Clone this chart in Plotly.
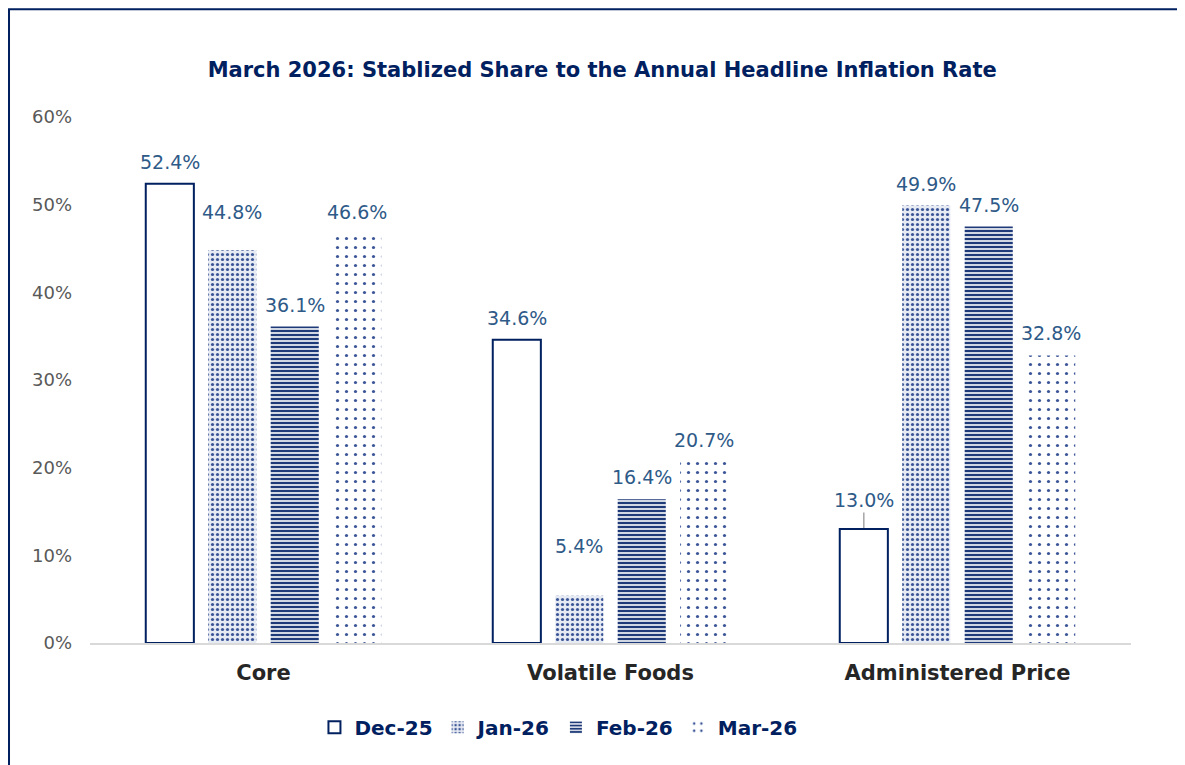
import plotly.graph_objects as go

categories = ['Core', 'Volatile Foods', 'Administered Price']
series_names = ['Dec-25', 'Jan-26', 'Feb-26', 'Mar-26']
dec_25 = [52.4, 34.6, 13.0]
jan_26 = [44.8, 5.4, 49.9]
feb_26 = [36.1, 16.4, 47.5]
mar_26 = [46.6, 20.7, 32.8]
y_ticks = [0, 10, 20, 30, 40, 50, 60]

navy = '#002060'
label_blue = '#2E5A88'
font = 'DejaVu Sans'

values = [dec_25, jan_26, feb_26, mar_26]
patterns = [
    dict(shape='', fillmode='replace'),
    dict(shape='.', size=5, solidity=0.32, fgcolor='#3B5597', bgcolor='#E6EAF2', fillmode='replace'),
    dict(shape='-', size=4, solidity=0.6, fgcolor='#1F3A78', bgcolor='#FFFFFF', fillmode='replace'),
    dict(shape='.', size=9, solidity=0.1, fgcolor='#3B5597', bgcolor='#FFFFFF', fillmode='replace'),
]
line_w = [2, 0, 0, 0]

bargap = 0.28
slot = (1 - bargap) / len(series_names)

fig = go.Figure()
for j, name in enumerate(series_names):
    fig.add_trace(go.Bar(
        x=categories, y=values[j], name=name,
        marker=dict(color='white', pattern=patterns[j],
                    line=dict(color=navy, width=line_w[j])),
    ))

# data labels; a few were dragged higher in the original, one with a leader line
lifted = {('Jan-26', 0): 38, ('Jan-26', 1): 50}
leader = {('Dec-25', 2): 29}
for j, name in enumerate(series_names):
    for i, v in enumerate(values[j]):
        xpos = i + (j - 1.5) * slot
        lab_font = dict(family=font, size=19, color=label_blue)
        if (name, i) in leader:
            fig.add_annotation(x=xpos, y=v, text=f'{v:.1f}%', showarrow=True,
                               arrowhead=0, arrowcolor='#A6A6A6', arrowwidth=1.5,
                               ax=0, ay=-leader[(name, i)], standoff=1, font=lab_font)
        else:
            fig.add_annotation(x=xpos, y=v, text=f'{v:.1f}%', showarrow=False,
                               yanchor='middle', yshift=lifted.get((name, i), 22),
                               font=lab_font)

fig.add_shape(type='rect', xref='paper', yref='paper',
              x0=-0.0778, x1=1.0495, y0=-0.5, y1=1.205,
              line=dict(color=navy, width=2), fillcolor='rgba(0,0,0,0)')

fig.update_layout(
    width=1185, height=765,
    margin=dict(l=82, r=62, t=109, b=130),
    paper_bgcolor='white', plot_bgcolor='white',
    barmode='group', bargap=bargap, bargroupgap=0.23,
    title=dict(text='<b>March 2026: Stablized Share to the Annual Headline Inflation Rate</b>',
               x=0.492, xref='paper', xanchor='center', y=0.919, yanchor='middle',
               font=dict(family=font, size=21, color=navy)),
    font=dict(family=font),
    showlegend=True,
    legend=dict(orientation='h', x=0.45, xanchor='center', y=-0.16, yanchor='middle',
                font=dict(family=font, size=20, color=navy, weight='bold'),
                itemwidth=30, tracegroupgap=0),
)
fig.update_xaxes(showline=True, linecolor='#D9D9D9', linewidth=1.5, showgrid=False,
                 ticks='', ticklabelstandoff=10,
                 tickfont=dict(family=font, size=21, color='#262626', weight='bold'))
fig.update_yaxes(range=[0, 60], tickvals=y_ticks, ticktext=[f'{t}%' for t in y_ticks],
                 showgrid=False, zeroline=False, showline=False, ticks='',
                 ticklabelstandoff=17,
                 tickfont=dict(family=font, size=18, color='#595959'))

fig.write_html('out.html')
